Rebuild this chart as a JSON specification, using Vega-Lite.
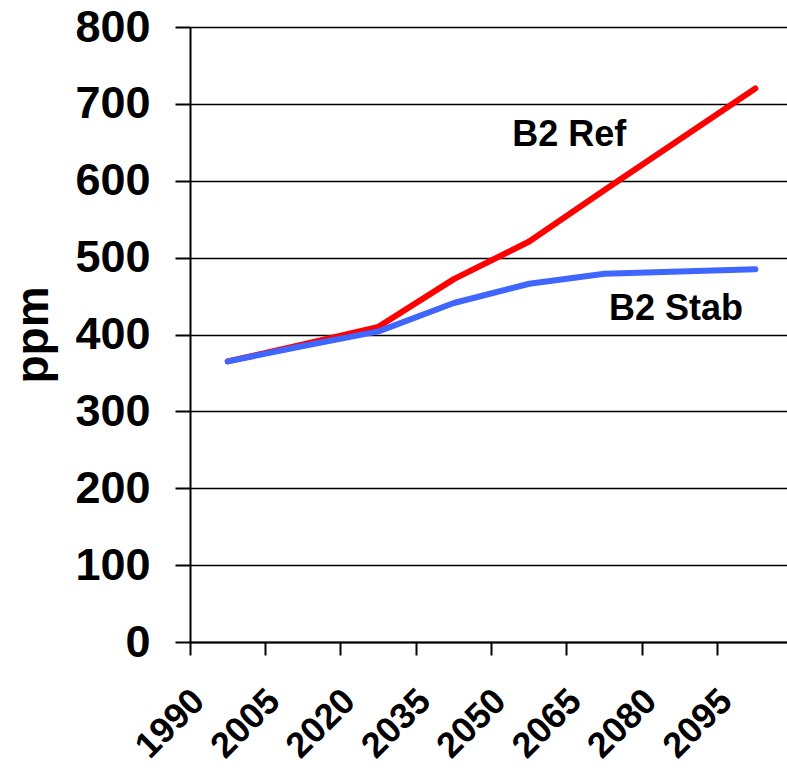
{
  "$schema": "https://vega.github.io/schema/vega-lite/v6.json",
  "width": 597,
  "height": 615,
  "autosize": "none",
  "padding": {"left": 190, "top": 27, "right": 0, "bottom": 126},
  "background": "white",
  "config": {"view": {"stroke": null}, "font": "Liberation Sans"},
  "datasets": {
    "series": [
      {"series": "B2 Ref", "year": "1990", "ppm": 365},
      {"series": "B2 Ref", "year": "2005", "ppm": 387},
      {"series": "B2 Ref", "year": "2020", "ppm": 410},
      {"series": "B2 Ref", "year": "2035", "ppm": 472},
      {"series": "B2 Ref", "year": "2050", "ppm": 521},
      {"series": "B2 Ref", "year": "2065", "ppm": 588},
      {"series": "B2 Ref", "year": "2080", "ppm": 654},
      {"series": "B2 Ref", "year": "2095", "ppm": 720},
      {"series": "B2 Stab", "year": "1990", "ppm": 365},
      {"series": "B2 Stab", "year": "2005", "ppm": 385},
      {"series": "B2 Stab", "year": "2020", "ppm": 404},
      {"series": "B2 Stab", "year": "2035", "ppm": 441},
      {"series": "B2 Stab", "year": "2050", "ppm": 466},
      {"series": "B2 Stab", "year": "2065", "ppm": 479},
      {"series": "B2 Stab", "year": "2080", "ppm": 482},
      {"series": "B2 Stab", "year": "2095", "ppm": 485}
    ],
    "labels": [
      {"label": "B2 Ref", "year": "2050", "ppm": 645},
      {"label": "B2 Stab", "year": "2080", "ppm": 419}
    ]
  },
  "encoding": {
    "x": {
      "field": "year",
      "type": "ordinal",
      "scale": {"type": "band", "paddingInner": 0, "paddingOuter": 0, "range": [0, 603], "domain": ["1990", "2005", "2020", "2035", "2050", "2065", "2080", "2095"]},
      "axis": {
        "title": null,
        "grid": false,
        "bandPosition": 0,
        "domainColor": "black",
        "domainWidth": 2,
        "tickColor": "black",
        "tickWidth": 2,
        "tickSize": 13,
        "labelAngle": -45,
        "labelAlign": "right",
        "labelBaseline": "middle",
        "labelOffset": -29,
        "labelPadding": 40,
        "labelFontSize": 36,
        "labelFontWeight": "bold",
        "labelColor": "black",
        "labelFont": "Liberation Sans"
      }
    },
    "y": {
      "field": "ppm",
      "type": "quantitative",
      "scale": {"domain": [0, 800], "nice": false, "zero": true},
      "axis": {
        "title": "ppm",
        "values": [0, 100, 200, 300, 400, 500, 600, 700, 800],
        "grid": true,
        "gridColor": "black",
        "gridWidth": 1.7,
        "gridOpacity": 1,
        "domainColor": "black",
        "domainWidth": 2,
        "tickColor": "black",
        "tickWidth": 2,
        "tickSize": 15,
        "labelPadding": 25,
        "labelFontSize": 45,
        "labelFontWeight": "bold",
        "labelColor": "black",
        "labelFont": "Liberation Sans",
        "titleFontSize": 46,
        "titleFontWeight": "bold",
        "titleColor": "black",
        "titleFont": "Liberation Sans",
        "titlePadding": 17
      }
    }
  },
  "layer": [
    {
      "data": {"name": "series"},
      "transform": [{"filter": "datum.series === 'B2 Ref'"}],
      "mark": {"type": "line", "color": "#FF0000", "strokeWidth": 6, "strokeCap": "round", "strokeJoin": "round"}
    },
    {
      "data": {"name": "series"},
      "transform": [{"filter": "datum.series === 'B2 Stab'"}],
      "mark": {"type": "line", "color": "#3F66FF", "strokeWidth": 6, "strokeCap": "round", "strokeJoin": "round"}
    },
    {
      "data": {"name": "labels"},
      "transform": [{"filter": "datum.label === 'B2 Ref'"}],
      "mark": {"type": "text", "fontSize": 36, "fontWeight": "bold", "font": "Liberation Sans", "align": "center", "baseline": "alphabetic", "dx": 40, "color": "black"},
      "encoding": {"text": {"field": "label"}}
    },
    {
      "data": {"name": "labels"},
      "transform": [{"filter": "datum.label === 'B2 Stab'"}],
      "mark": {"type": "text", "fontSize": 36, "fontWeight": "bold", "font": "Liberation Sans", "align": "center", "baseline": "alphabetic", "dx": -4, "color": "black"},
      "encoding": {"text": {"field": "label"}}
    }
  ]
}
